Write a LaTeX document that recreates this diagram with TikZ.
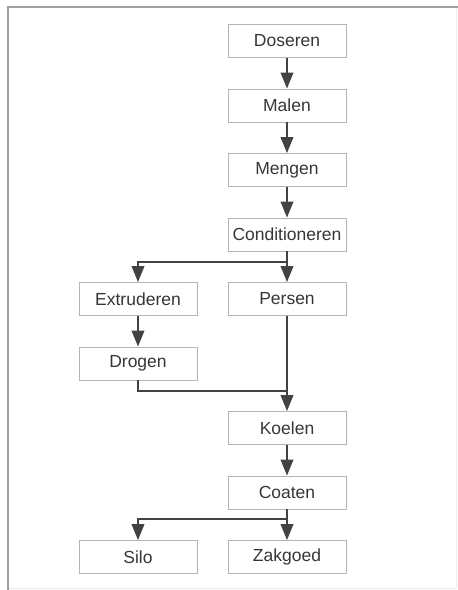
\documentclass[tikz,border=0pt]{standalone}
\usepackage{fontspec}
\setmainfont{Liberation Sans}
\usetikzlibrary{arrows.meta}
\definecolor{linegray}{HTML}{424242}
\definecolor{boxgray}{HTML}{B4B4B4}
\definecolor{textgray}{HTML}{363636}
\begin{document}
\begin{tikzpicture}[x=1pt,y=-1pt,
  stepbox/.style={draw=boxgray,line width=0.8pt,minimum width=118pt,minimum height=33pt,
    inner sep=0pt,text=textgray,font=\fontsize{17.5}{20}\selectfont},
  flow/.style={draw=linegray,line width=2pt,-{Triangle[width=12.5pt,length=16pt]}},
  plain/.style={draw=linegray,line width=2pt}]
\useasboundingbox (0,0) rectangle (458,590);
\draw[gray!15,line width=1pt] (456,7) -- (456,588) -- (8,588);
\draw[gray!75,line width=1.8pt] (8,590) -- (8,7) -- (458,7);
\node[stepbox] (dos) at (287,41) {Doseren};
\node[stepbox] (mal) at (287,105.5) {Malen};
\node[stepbox] (men) at (287,170) {Mengen};
\node[stepbox] (con) at (287,234.5) {Conditioneren};
\node[stepbox] (ext) at (138,299) {Extruderen};
\node[stepbox] (per) at (287,299) {Persen};
\node[stepbox] (dro) at (138,363.5) {Drogen};
\node[stepbox] (koe) at (287,428) {Koelen};
\node[stepbox] (coa) at (287,492.5) {Coaten};
\node[stepbox] (sil) at (138,557) {Silo};
\node[stepbox] (zak) at (287,557) {Zakgoed};
\coordinate (split1) at (287,262);
\coordinate (join1) at (287,391);
\coordinate (split2) at (287,519);
\draw[flow] (dos) -- (mal);
\draw[flow] (mal) -- (men);
\draw[flow] (men) -- (con);
\draw[flow] (con) -- (per);
\draw[flow] (con.south) -- (split1) -| (ext.north);
\draw[flow] (ext) -- (dro);
\draw[plain] (dro.south) |- (join1);
\draw[flow] (per) -- (koe);
\draw[flow] (koe) -- (coa);
\draw[flow] (coa) -- (zak);
\draw[flow] (coa.south) -- (split2) -| (sil.north);
\end{tikzpicture}
\end{document}
